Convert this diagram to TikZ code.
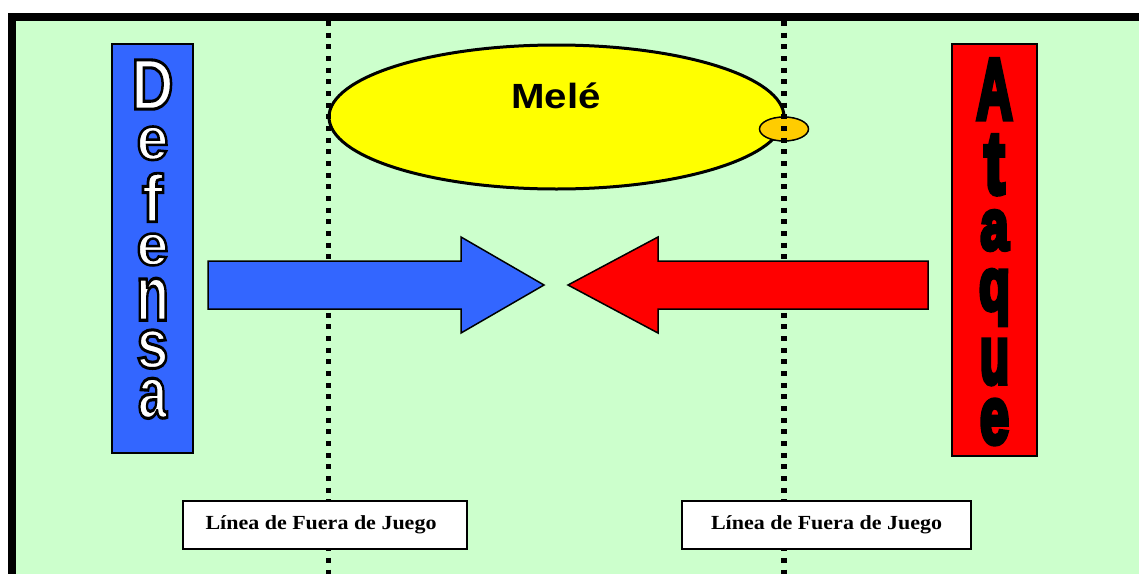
\documentclass[tikz,border=0pt]{standalone}
\usepackage{fontspec}
\setmainfont{Liberation Serif}
\newfontfamily\arialf{Liberation Sans}
\usepackage{graphicx}
\definecolor{fieldgreen}{HTML}{CCFFCC}
\definecolor{defblue}{HTML}{3366FF}
\definecolor{atkred}{HTML}{FF0000}
\definecolor{meleyellow}{HTML}{FFFF00}
\definecolor{ballorange}{HTML}{FFCC00}
% text drawn filled and stroked (render mode 2) with a black stroke
\newcommand\strokeon[1]{\special{pdf:literal direct 2 Tr 0 G #1 w}}
\newcommand\strokeoff{\special{pdf:literal direct 0 Tr}}
% Defensa letter: white with black outline
\newcommand\defL[6]{%
  \node[inner sep=0pt,text=white] (#1) at (#2,#3)
    {\strokeon{3}\resizebox*{#4pt}{#5pt}{\arialf\bfseries\fontsize{70}{70}\selectfont #6}\strokeoff};}
% Ataque letter: heavy black
\newcommand\atqL[6]{%
  \node[inner sep=0pt,text=black] (#1) at (#2,#3)
    {\strokeon{6}\resizebox*{#4pt}{#5pt}{\arialf\bfseries\fontsize{90}{90}\selectfont #6}\strokeoff};}
\begin{document}
\begin{tikzpicture}[x=1pt,y=-1pt,
  offside/.style={line width=5.5pt,dash pattern=on 5pt off 6.67pt,black},
  teambox/.style={draw=black,line width=1.5pt},
  bigarrow/.style={draw=black,line width=1.5pt,line join=miter},
  labelbox/.style={draw=black,line width=1.5pt,fill=white,minimum width=284pt,minimum height=48pt,inner sep=0pt,font=\bfseries\fontsize{20}{24}\selectfont}]
\useasboundingbox (0,0) rectangle (1139,573);
\clip (0,0) rectangle (1139,573);
% field and frame
\fill[fieldgreen] (16,21) rectangle (1200,620);
\draw[line width=8pt] (12,17) rectangle (1220,640);
% mele ellipse
\draw[fill=meleyellow,line width=3pt] (556.5,117) ellipse [x radius=227.5,y radius=72];
\node[font=\arialf\bfseries\fontsize{35}{40}\selectfont,anchor=base,inner sep=0pt] (mele) at (556,108.3) {\scalebox{1.15}[1]{Melé}};
\draw[fill=ballorange,line width=1.5pt] (784,129) ellipse [x radius=24.5,y radius=12];
% offside lines
\draw[offside] (328.5,21) -- (328.5,580);
\draw[offside] (784,21) -- (784,580);
% arrows
\draw[bigarrow,fill=defblue] (208,261) -- (461,261) -- (461,237) -- (544,285) -- (461,333) -- (461,309) -- (208,309) -- cycle;
\draw[bigarrow,fill=atkred] (928,261) -- (658,261) -- (658,237) -- (568,285) -- (658,333) -- (658,309) -- (928,309) -- cycle;
% team boxes
\draw[teambox,fill=defblue] (112,44) rectangle (193,453);
\draw[teambox,fill=atkred] (952,44) rectangle (1037,456);
% Defensa
\defL{dD}{152.5}{84.5}{42}{49.4}{D}
\defL{de1}{152.5}{143.3}{32}{33.6}{e}
\defL{df}{152.5}{197.5}{21}{48.6}{f}
\defL{de2}{152.5}{249.5}{32}{32}{e}
\defL{dn}{152.5}{299.2}{33}{42}{n}
\defL{ds}{152.5}{349.2}{32}{38.6}{s}
\defL{da}{152.5}{398.3}{29}{40.3}{a}
% Ataque
\atqL{aA}{994.5}{89.2}{36}{59}{A}
\atqL{at}{994.5}{164.9}{20}{58}{t}
\atqL{aa}{994.5}{230.5}{28}{39}{a}
\atqL{aq}{994.5}{297.5}{31}{55}{q}
\atqL{au}{994.5}{362}{29}{44}{u}
\atqL{ae}{994.5}{422}{29}{44}{e}
% offside labels
\node[labelbox] (lab1) at (325,525) {\scalebox{1.1}[1]{Línea de Fuera de Juego}\hspace*{8pt}};
\node[labelbox,minimum width=289pt] (lab2) at (826.5,525) {\scalebox{1.1}[1]{Línea de Fuera de Juego}};
\end{tikzpicture}
\end{document}
